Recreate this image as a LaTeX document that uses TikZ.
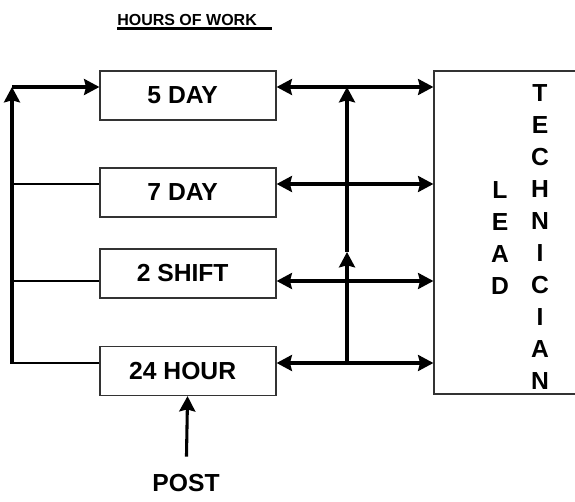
\documentclass[tikz,border=0pt]{standalone}
\usepackage{fontspec}
\setmainfont{Liberation Sans}
\usetikzlibrary{arrows.meta,positioning}

\tikzset{
  shiftbox/.style={draw=black!80, line width=0.9pt, minimum width=132pt,
    minimum height=36.75pt, inner sep=0pt,
    font=\fontsize{18.5}{22}\selectfont\bfseries,
    execute at end node={\hspace*{8pt}}},
  letterstack/.style={anchor=north, inner sep=0pt, align=center,
    font=\fontsize{18.5}{24}\selectfont\bfseries},
  busline/.style={line width=2.3pt},
  tapline/.style={line width=0.9pt},
  arrowin/.style={-{Stealth[length=11.5pt,width=12pt,inset=1.5pt]}},
  twoway/.style={busline,
    {Stealth[length=11.5pt,width=12pt,inset=1.5pt]}-{Stealth[length=11.5pt,width=12pt,inset=1.5pt]}}
}

\begin{document}
\begin{tikzpicture}[x=0.75pt,y=-0.75pt]
    \clip (0,0) rectangle (575,502);

    % Title
    \node[anchor=base west, inner sep=0pt, font=\fontsize{12}{14}\selectfont\bfseries]
        (title) at (117,26) {HOURS OF WORK};
    \draw[line width=1.8pt] ([yshift=-2pt]title.base west) -- ++(155,0);

    % Work patterns
    \node[shiftbox] (fiveday) at (188,95.5) {5 DAY};
    \node[shiftbox] (sevenday) at (188,192.5) {7 DAY};
    \node[shiftbox] (twoshift) at (188,273.5) {2 SHIFT};
    \node[shiftbox] (fullday) at (188,371) {24 HOUR};

    % Lead technician box
    \node[draw=black!80, line width=0.9pt, minimum width=111pt,
        minimum height=242.25pt, inner sep=0pt] (lead) at (508,232.5) {};
    \node[letterstack] (leadword) at (500,181) {L\\E\\A\\D};
    \node[letterstack] (techword) at (540,84) {T\\E\\C\\H\\N\\I\\C\\I\\A\\N};

    \node[inner sep=0pt, font=\fontsize{18.5}{22}\selectfont\bfseries] (post) at (186,483) {POST};

    % Row levels and bus points
    \coordinate (r1) at (0,87);
    \coordinate (r2) at (0,184);
    \coordinate (r3) at (0,281);
    \coordinate (r4) at (0,363);
    \coordinate (ltop) at (12,87);
    \coordinate (lbot) at (12,364);
    \coordinate (rtop) at (347,87);
    \coordinate (rmid) at (347,252);
    \coordinate (rbot) at (347,363);

    % Left bus
    \draw[busline, arrowin] (lbot) -- (ltop);
    \draw[busline, arrowin] (ltop) -- (fiveday.west |- r1);
    \foreach \row/\name in {r2/sevenday, r3/twoshift, r4/fullday}
        \draw[tapline] (ltop |- \row) -- (\name.west |- \row);

    % Links to the lead technician
    \foreach \row/\name in {r1/fiveday, r2/sevenday, r3/twoshift, r4/fullday}
        \draw[twoway] (\name.east |- \row) -- (lead.west |- \row);
    \draw[busline, arrowin] (rbot) -- (rmid);
    \draw[busline, arrowin] (rmid) -- (rtop);

    % Post input
    \draw[busline, arrowin, shorten <=13pt] (post) -- (fullday);
\end{tikzpicture}
\end{document}
